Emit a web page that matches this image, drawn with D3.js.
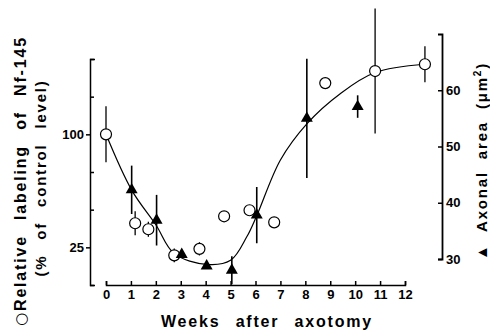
<!DOCTYPE html>
<html lang="en">
<head>
  <meta charset="utf-8">
  <title>Nf-145 labeling and axonal area after axotomy</title>
  <script src="https://d3js.org/d3.v7.min.js"></script>
  <style>
    body { margin: 0; background: #fff; }
    text { font-family: "Liberation Sans", Arial, sans-serif; font-weight: bold; fill: #000; }
  </style>
</head>
<body>
<script>
// open circles: relative labeling of Nf-145 (% of control), left axis
var circleWeeks  = [0, 1.17, 1.7, 2.74, 3.75, 4.74, 5.76, 6.75, 8.8, 10.8, 12.8];
var circleValues = [100, 41, 37, 19.7, 24, 45.6, 49.6, 41.6, 134, 142, 146.5];
var circleErrors = [18.6, 8, 5, 4.6, 4.4, 0, 0, 0, 0, 41.5, 12];

// filled triangles: axonal area (um2), right axis
var triangleWeeks  = [1.03, 2.03, 3.04, 4.04, 5.05, 6.05, 8.06, 10.1];
var triangleArea   = [42.3, 36.9, 30.8, 28.75, 28, 37.8, 55, 57.1];
var triangleErrors = [4.3, 4.5, 0, 0, 2.5, 5, 10.6, 2];

// hand drawn fitted curve (left axis units)
var curveWeeks  = [0, 1.03, 2.0, 2.73, 4.04, 5.0, 5.65, 6.05, 7.0, 8.06, 9.4, 10.8, 12.8];
var curveValues = [100, 63, 40, 21, 13.7, 16.4, 32, 46, 83, 107, 127, 141, 146.5];

var weekTicks  = d3.range(0, 13);
var leftLabels = [25, 100];
var leftMinor  = [0, 50, 75, 125, 150];
var rightTicks = [30, 40, 50, 60];

var w = 490, h = 332;

var x = d3.scaleLinear().domain([0, 12]).range([106, 405]);
var yL = d3.scaleLinear().domain([0, 150]).range([285, 59]);
var yR = d3.scaleLinear().domain([30, 70]).range([259, 34]);

var svg = d3.select("body").append("svg")
  .attr("width", w)
  .attr("height", h);

function styleAxis(g, size) {
  g.attr("font-family", null).attr("font-size", size);
  g.selectAll("path, line").attr("stroke", "#000").attr("stroke-width", 1.5);
  g.selectAll("text").style("font-weight", "bold");
}

// bottom axis, ticks point up
svg.append("g")
  .attr("transform", "translate(0,285)")
  .call(d3.axisBottom(x).tickValues(weekTicks).tickSizeInner(-4).tickSizeOuter(-4).tickPadding(5))
  .call(styleAxis, 13);

// left axis: labelled ticks outward, others inward
svg.append("g")
  .attr("transform", "translate(90,0)")
  .call(d3.axisLeft(yL).tickValues(leftLabels).tickSizeInner(4).tickSizeOuter(-5).tickPadding(2))
  .call(styleAxis, 13);
svg.append("g")
  .attr("transform", "translate(90,0)")
  .call(d3.axisRight(yL).tickValues(leftMinor).tickSize(4).tickFormat(""))
  .call(function(g) { g.select(".domain").remove(); })
  .call(styleAxis, 13);

// right axis
svg.append("g")
  .attr("transform", "translate(442,0)")
  .call(d3.axisRight(yR).tickValues(rightTicks).tickSizeInner(-4).tickSizeOuter(-4).tickPadding(4))
  .call(styleAxis, 13)
  .call(function(g) { g.select(".domain").attr("stroke-width", 1.8); });

// fitted curve
var curvePts = curveWeeks.map(function(d, i) { return [d, curveValues[i]]; });
svg.append("path")
  .datum(curvePts)
  .attr("fill", "none")
  .attr("stroke", "#000")
  .attr("stroke-width", 1.2)
  .attr("d", d3.line()
    .x(function(d) { return x(d[0]); })
    .y(function(d) { return yL(d[1]); })
    .curve(d3.curveCatmullRom.alpha(0.5)));

// error bars
var circles = circleWeeks.map(function(d, i) {
  return { w: d, v: circleValues[i], e: circleErrors[i] };
});
var triangles = triangleWeeks.map(function(d, i) {
  return { w: d, v: triangleArea[i], e: triangleErrors[i] };
});

svg.selectAll(".errC")
  .data(circles.filter(function(d) { return d.e > 0; }))
  .enter().append("line")
  .attr("x1", function(d) { return x(d.w); })
  .attr("x2", function(d) { return x(d.w); })
  .attr("y1", function(d) { return yL(d.v + d.e); })
  .attr("y2", function(d) { return yL(d.v - d.e); })
  .attr("stroke", "#000")
  .attr("stroke-width", 1.3);

svg.selectAll(".errT")
  .data(triangles.filter(function(d) { return d.e > 0; }))
  .enter().append("line")
  .attr("x1", function(d) { return x(d.w); })
  .attr("x2", function(d) { return x(d.w); })
  .attr("y1", function(d) { return yR(d.v + d.e); })
  .attr("y2", function(d) { return yR(d.v - d.e); })
  .attr("stroke", "#000")
  .attr("stroke-width", 1.6);

// markers
svg.selectAll(".pt")
  .data(circles)
  .enter().append("circle")
  .attr("cx", function(d) { return x(d.w); })
  .attr("cy", function(d) { return yL(d.v); })
  .attr("r", 5.5)
  .attr("fill", "#fff")
  .attr("stroke", "#000")
  .attr("stroke-width", 1.2);

svg.selectAll(".tri")
  .data(triangles)
  .enter().append("path")
  .attr("d", d3.symbol().type(d3.symbolTriangle).size(62))
  .attr("transform", function(d) { return "translate(" + x(d.w) + "," + yR(d.v) + ")"; })
  .attr("fill", "#000");

// axis titles
var lt = svg.append("text")
  .attr("transform", "translate(26,181) rotate(-90)")
  .attr("text-anchor", "middle")
  .style("font-size", "16px")
  .style("letter-spacing", "1.8px")
  .style("word-spacing", "9px");
lt.append("tspan")
  .style("font-family", "'DejaVu Sans'")
  .style("font-weight", "normal")
  .style("font-size", "15px")
  .text("○");
lt.append("tspan").text("Relative labeling of Nf-145");

svg.append("text")
  .attr("transform", "translate(46,178) rotate(-90)")
  .attr("text-anchor", "middle")
  .style("font-size", "15px")
  .style("letter-spacing", "1.8px")
  .style("word-spacing", "9px")
  .text("(% of control level)");

var rt = svg.append("text")
  .attr("transform", "translate(487,161) rotate(-90)")
  .attr("text-anchor", "middle")
  .style("font-size", "15px")
  .style("letter-spacing", "1.8px")
  .style("word-spacing", "6px");
rt.append("tspan").text("▲ Axonal area (μm");
rt.append("tspan").attr("dy", -6).style("font-size", "10px").text("2");
rt.append("tspan").attr("dy", 6).text(")");

svg.append("text")
  .attr("x", 267)
  .attr("y", 327)
  .attr("text-anchor", "middle")
  .style("font-size", "16px")
  .style("letter-spacing", "1.8px")
  .style("word-spacing", "9px")
  .text("Weeks after axotomy");
</script>
</body>
</html>
